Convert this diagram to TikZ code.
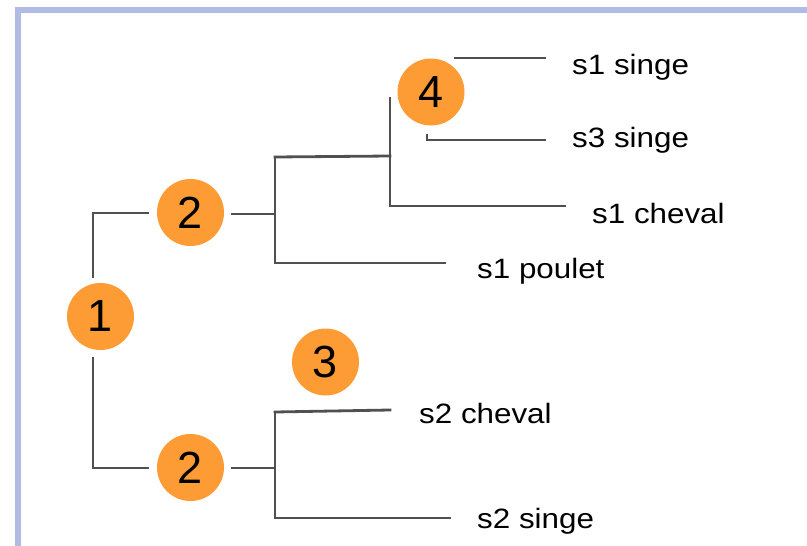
\documentclass[tikz,border=0pt]{standalone}
\usepackage{fontspec}
\setmainfont{Liberation Sans}
\definecolor{frameblue}{RGB}{176,188,228}
\definecolor{nodeorange}{RGB}{253,155,52}
\definecolor{branch}{RGB}{80,80,80}
\begin{document}
\begin{tikzpicture}[x=1pt,y=-1pt,
  num/.style={circle,fill=nodeorange,minimum size=67pt,inner sep=0pt,
    font=\fontsize{45}{45}\selectfont},
  leaf/.style={anchor=base west,inner sep=0pt,font=\fontsize{28}{28}\selectfont},
  br/.style={draw=branch,line width=2.8pt,line cap=rect,line join=miter}]
\useasboundingbox (0,0) rectangle (807,546);
% frame
\draw[frameblue,line width=5.4pt] (18,560) -- (18,10) -- (820,10);

% numbered nodes
\node[num] (c1)  at (100.5,316.5) {1};
\node[num] (c2a) at (190.5,212.5) {2};
\node[num] (c2b) at (190.5,467.5) {2};
\node[num] (c3)  at (325.5,362) {3};
\node[num] (c4)  at (431,92) {4};

% leaf labels
\node[leaf] (l1) at (572,74)  {\scalebox{1.12}[1]{s1 singe}};
\node[leaf] (l2) at (572,147) {\scalebox{1.12}[1]{s3 singe}};
\node[leaf] (l3) at (592,223) {\scalebox{1.12}[1]{s1 cheval}};
\node[leaf] (l4) at (477,278) {\scalebox{1.12}[1]{s1 poulet}};
\node[leaf] (l5) at (419,423) {\scalebox{1.12}[1]{s2 cheval}};
\node[leaf] (l6) at (477,528) {\scalebox{1.12}[1]{s2 singe}};

% junction points
\coordinate (r1t) at (93,277);
\coordinate (r1b) at (93,358);
\coordinate (a2in) at (148,213);
\coordinate (b2in) at (148,468);
\coordinate (a2out) at (232,214);
\coordinate (b2out) at (232,468);
\coordinate (aj) at (275,214);
\coordinate (bj) at (275,468);
\coordinate (atop) at (275,157);
\coordinate (abot) at (275,263);
\coordinate (btop) at (275,412);
\coordinate (bbot) at (275,518);
\coordinate (cj) at (390,156);
\coordinate (ctop) at (390,98);
\coordinate (cbot) at (390,206);
\coordinate (e1) at (455,58);
\coordinate (e1r) at (545,58);
\coordinate (e2t) at (427,135);
\coordinate (e2r) at (545,140);
\coordinate (e3r) at (565,206);
\coordinate (e4r) at (445,263);
\coordinate (e5r) at (390,410);
\coordinate (e6r) at (450,518);

% upper branch
\draw[br] (r1t) |- (a2in);
\draw[br] (a2out) -- (aj);
\draw[br] (atop) -- (abot) -- (e4r);
\draw[br] (atop) -- (cj);
\draw[br] (ctop) -- (cbot) -- (e3r);
\draw[br] (e1) -- (e1r);
\draw[br] (e2t) |- (e2r);

% lower branch
\draw[br] (r1b) |- (b2in);
\draw[br] (b2out) -- (bj);
\draw[br] (btop) -- (bbot) -- (e6r);
\draw[br] (btop) -- (e5r);
\end{tikzpicture}
\end{document}
